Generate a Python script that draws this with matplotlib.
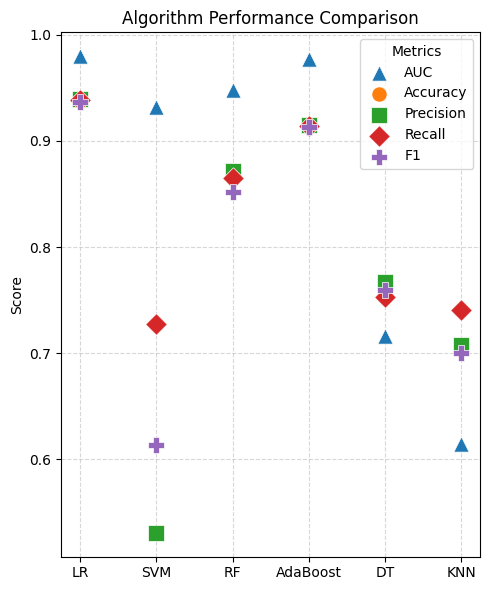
import matplotlib.pyplot as plt

algorithms = ['LR', 'SVM', 'RF', 'AdaBoost', 'DT', 'KNN']
auc = [0.980, 0.932, 0.948, 0.977, 0.716, 0.615]
accuracy = [0.938, 0.728, 0.865, 0.914, 0.753, 0.741]
precision = [0.939, 0.531, 0.872, 0.915, 0.767, 0.708]
recall = [0.938, 0.728, 0.865, 0.914, 0.753, 0.741]
f1 = [0.937, 0.614, 0.852, 0.913, 0.760, 0.700]

metrics = {'AUC': auc, 'Accuracy': accuracy, 'Precision': precision,
           'Recall': recall, 'F1': f1}
markers = ['^', 'o', 's', 'D', 'P']

fig, ax = plt.subplots(figsize=(4.9, 5.9), dpi=100)

for (name, vals), m in zip(metrics.items(), markers):
    ax.scatter(algorithms, vals, marker=m, s=120, label=name,
               edgecolors='white', linewidths=0.5, zorder=3)

ax.set_title('Algorithm Performance Comparison')
ax.set_ylabel('Score')
ax.grid(True, linestyle='--', alpha=0.5)
ax.legend(title='Metrics', loc='upper right')

plt.tight_layout(pad=0.7)
plt.savefig('out.png')
